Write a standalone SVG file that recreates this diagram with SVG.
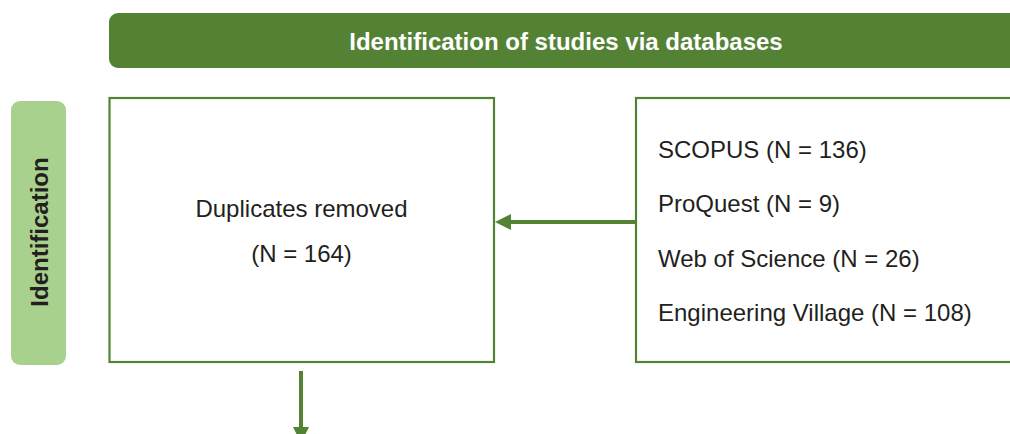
<svg xmlns="http://www.w3.org/2000/svg" width="1010" height="434" viewBox="0 0 1010 434">
  <style>
    .box { fill: #ffffff; stroke: #548235; stroke-width: 2.2; }
    .txt { font-family: "Liberation Sans", Arial, sans-serif; font-size: 24px; fill: #231f20; }
    .bold { font-weight: bold; }
    .conn { stroke: #548235; stroke-width: 4; fill: none; }
    .head { fill: #548235; }
  </style>
  <rect width="1010" height="434" fill="#ffffff"/>

  <g id="banner">
    <rect x="109" y="13" width="940" height="55" rx="9" ry="9" fill="#548235"/>
    <text class="txt bold" x="566" y="50" text-anchor="middle" style="fill:#ffffff">Identification of studies via databases</text>
  </g>

  <g id="stage-identification">
    <rect x="11" y="101" width="55" height="264" rx="9" ry="9" fill="#a9d18e"/>
    <text class="txt bold" transform="translate(48,232) rotate(-90)" x="0" y="0" text-anchor="middle">Identification</text>
  </g>

  <g id="duplicates">
    <rect class="box" x="109.5" y="98" width="384.5" height="264"/>
    <text class="txt" x="301.5" y="217" text-anchor="middle">Duplicates removed</text>
    <text class="txt" x="301.5" y="261.5" text-anchor="middle">(N = 164)</text>
  </g>

  <g id="databases">
    <rect class="box" x="636" y="98" width="400" height="264"/>
    <text class="txt" x="658" y="158">SCOPUS (N = 136)</text>
    <text class="txt" x="658" y="212">ProQuest (N = 9)</text>
    <text class="txt" x="658" y="266.5">Web of Science (N = 26)</text>
    <text class="txt" x="658" y="321">Engineering Village (N = 108)</text>
  </g>

  <g id="connectors">
    <line class="conn" x1="635" y1="222" x2="509" y2="222"/>
    <polygon class="head" points="495,222 511,214 511,230"/>
    <line class="conn" x1="301" y1="371" x2="301" y2="429"/>
    <polygon class="head" points="293,427 309,427 301,443"/>
  </g>
</svg>
